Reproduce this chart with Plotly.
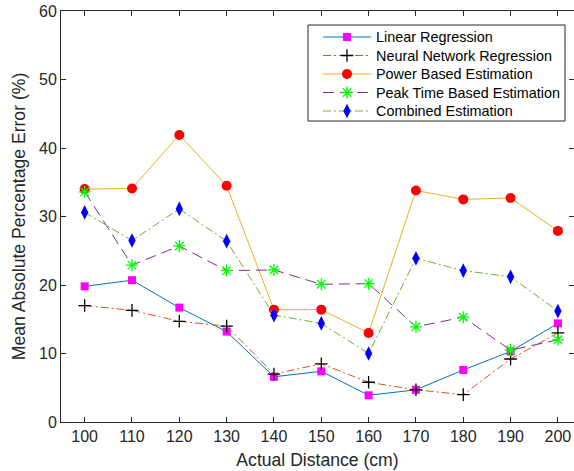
import plotly.graph_objects as go

# Measured distances (cm)
distance = [100, 110, 120, 130, 140, 150, 160, 170, 180, 190, 200]

# Mean absolute percentage error (%) for each estimation method
linear_regression = [19.8, 20.7, 16.7, 13.2, 6.6, 7.4, 3.9, 4.7, 7.6, 10.3, 14.4]
neural_network = [17.0, 16.3, 14.7, 14.0, 7.0, 8.5, 5.8, 4.7, 4.0, 9.2, 13.0]
power_based = [34.0, 34.1, 41.9, 34.5, 16.4, 16.4, 13.0, 33.8, 32.5, 32.7, 27.9]
peak_time = [33.6, 22.9, 25.7, 22.1, 22.2, 20.1, 20.2, 13.9, 15.3, 10.5, 12.0]
combined = [30.6, 26.5, 31.1, 26.4, 15.6, 14.4, 10.0, 23.9, 22.1, 21.2, 16.2]

x_ticks = [100, 110, 120, 130, 140, 150, 160, 170, 180, 190, 200]
y_ticks = [0, 10, 20, 30, 40, 50, 60]

DASHDOT = "8px,3px,2px,3px"
series = [
    ("Linear Regression", linear_regression,
     dict(color="#0072BD", width=1, dash="solid"),
     dict(symbol="square", size=8, color="#FF00FF", line=dict(width=0))),
    ("Neural Network Regression", neural_network,
     dict(color="#D95319", width=1, dash=DASHDOT),
     dict(symbol="cross-thin-open", size=9, color="#000000",
          line=dict(width=1.3, color="#000000"))),
    ("Power Based Estimation", power_based,
     dict(color="#EDB120", width=1, dash="solid"),
     dict(symbol="circle", size=10, color="#FF0000", line=dict(width=0))),
    ("Peak Time Based Estimation", peak_time,
     dict(color="#7E2F8E", width=1, dash="11px,6px"),
     dict(symbol="asterisk-open", size=10, color="#00FF00",
          line=dict(width=1.3, color="#00FF00"))),
    ("Combined Estimation", combined,
     dict(color="#77AC30", width=1, dash=DASHDOT),
     dict(symbol="diamond-tall", size=10.5, color="#0000FF", line=dict(width=0))),
]

fig = go.Figure()
for name, values, line, marker in series:
    fig.add_trace(go.Scatter(
        x=distance, y=values, name=name, mode="lines+markers",
        line=line, marker=marker, showlegend=False,
    ))

# Legend drawn on an overlay axis measured in pixels from the plot's top-left
# corner, so the rows can be packed as tightly as a MATLAB legend.
LEG_LEFT, LEG_RIGHT, LEG_TOP, LEG_BOTTOM = 247, 504, 14, 110
ROW0, ROW_STEP = 26, 18.5
SAMPLE_X0, SAMPLE_X1, TEXT_X = 262, 310, 313

axis_color = "#262626"
shapes = [dict(type="rect", xref="x2", yref="y2",
               x0=LEG_LEFT, x1=LEG_RIGHT, y0=LEG_TOP, y1=LEG_BOTTOM,
               line=dict(color=axis_color, width=1), fillcolor="white", layer="below")]
annotations = []
for i, (name, _, line, marker) in enumerate(series):
    row_y = ROW0 + i * ROW_STEP
    fig.add_trace(go.Scatter(
        x=[SAMPLE_X0, SAMPLE_X1], y=[row_y, row_y], xaxis="x2", yaxis="y2",
        mode="lines", line=line, showlegend=False, hoverinfo="skip",
    ))
    fig.add_trace(go.Scatter(
        x=[(SAMPLE_X0 + SAMPLE_X1) / 2], y=[row_y], xaxis="x2", yaxis="y2",
        mode="markers", marker=marker, showlegend=False, hoverinfo="skip",
    ))
    annotations.append(dict(
        xref="x2", yref="y2", x=TEXT_X, y=row_y, text=name, showarrow=False,
        xanchor="left", yanchor="middle",
        font=dict(size=14.4, color="#000000"),
    ))

fig.update_layout(
    width=574, height=471,
    margin=dict(l=61, r=0, t=11, b=49),
    paper_bgcolor="white", plot_bgcolor="white",
    font=dict(family="Liberation Sans, Arial, sans-serif", size=16, color=axis_color),
    xaxis=dict(
        range=[95, 203.4], tickvals=x_ticks, ticks="inside", ticklen=5,
        tickcolor=axis_color, showline=True, linecolor=axis_color, linewidth=1,
        mirror="ticks", showgrid=False, zeroline=False,
        tickfont=dict(size=16),
        title=dict(text="Actual Distance (cm)", font=dict(size=17.6), standoff=9),
    ),
    yaxis=dict(
        range=[0, 60], tickvals=y_ticks, ticks="inside", ticklen=5,
        tickcolor=axis_color, showline=True, linecolor=axis_color, linewidth=1,
        mirror="ticks", showgrid=False, zeroline=False,
        tickfont=dict(size=16),
        title=dict(text="Mean Absolute Percentage Error (%)", font=dict(size=17.6), standoff=8),
    ),
    xaxis2=dict(overlaying="x", range=[0, 513], visible=False, fixedrange=True),
    yaxis2=dict(overlaying="y", range=[411, 0], visible=False, fixedrange=True),
    shapes=shapes,
    annotations=annotations,
    showlegend=False,
)

fig.write_html("out.html")
